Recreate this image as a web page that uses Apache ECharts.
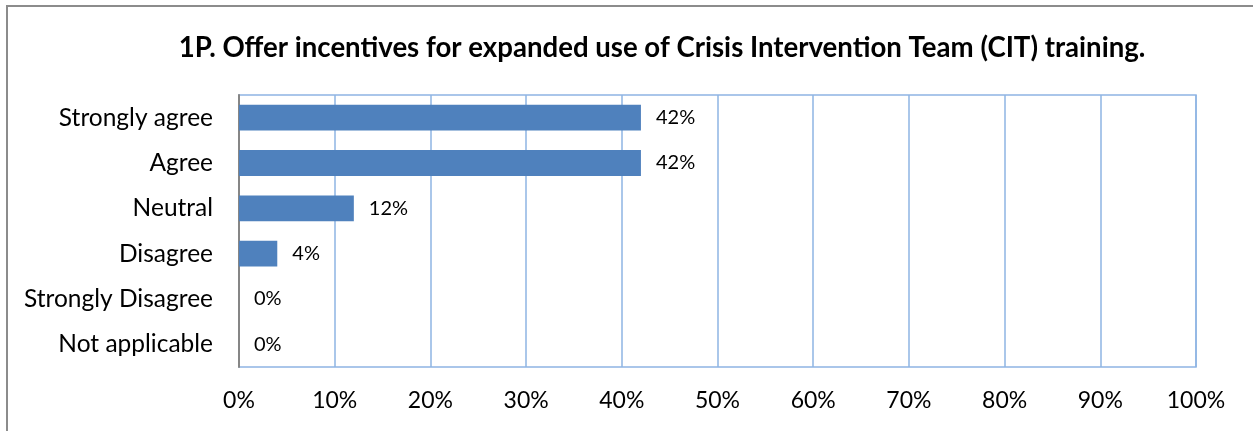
<!DOCTYPE html>
<html>
<head>
<meta charset="utf-8">
<script src="https://cdn.jsdelivr.net/npm/echarts@6/dist/echarts.min.js"></script>
<style>
  html, body { margin: 0; padding: 0; background: #fff; overflow: hidden; }
  #frame { position: absolute; left: 6px; top: 5px; width: 1260px; height: 440px; border: 2px solid #8c8c8c; box-sizing: border-box; }
  #chart { position: absolute; left: 0; top: 0; width: 1253px; height: 431px; }
</style>
</head>
<body>
<div id="frame"></div>
<div id="chart"></div>
<script>
// survey answers, top to bottom
const categories = ['Strongly agree', 'Agree', 'Neutral', 'Disagree', 'Strongly Disagree', 'Not applicable']
const percents = [42, 42, 12, 4, 0, 0]
const xTicks = [0, 10, 20, 30, 40, 50, 60, 70, 80, 90, 100]

const font = 'Lato, "Open Sans", sans-serif'

const option = {
  animation: false,
  title: {
    text: '1P. Offer incentives for expanded use of Crisis Intervention Team (CIT) training.',
    left: 657,
    top: 29,
    textAlign: 'center',
    textStyle: { fontFamily: font, fontSize: 27.6, fontWeight: 'bold', color: '#000' }
  },
  grid: {
    left: 239, right: 57, top: 95, bottom: 64,
    show: true, borderColor: '#8eb4e3', borderWidth: 1.5
  },
  xAxis: {
    type: 'value',
    min: xTicks[0],
    max: xTicks[xTicks.length - 1],
    interval: 10,
    axisLine: { show: false },
    axisTick: { show: false },
    axisLabel: { formatter: '{value}%', fontFamily: font, fontSize: 23, color: '#000', margin: 22 },
    splitLine: { show: true, lineStyle: { color: '#8eb4e3', width: 1.5 } }
  },
  yAxis: {
    type: 'category',
    data: categories,
    inverse: true,
    axisLine: { show: true, lineStyle: { color: '#868686', width: 2 } },
    axisTick: { show: false },
    axisLabel: { fontFamily: font, fontSize: 24.5, color: '#000', margin: 26 },
    splitLine: { show: false }
  },
  series: [{
    type: 'bar',
    data: percents,
    barWidth: '57%',
    itemStyle: { color: '#4f81bd' },
    label: {
      show: true,
      position: 'right',
      distance: 15,
      formatter: '{c}%',
      fontFamily: font,
      fontSize: 20,
      color: '#000'
    }
  }]
}

const myChart = echarts.init(document.getElementById('chart'))
myChart.setOption(option)
</script>
</body>
</html>
